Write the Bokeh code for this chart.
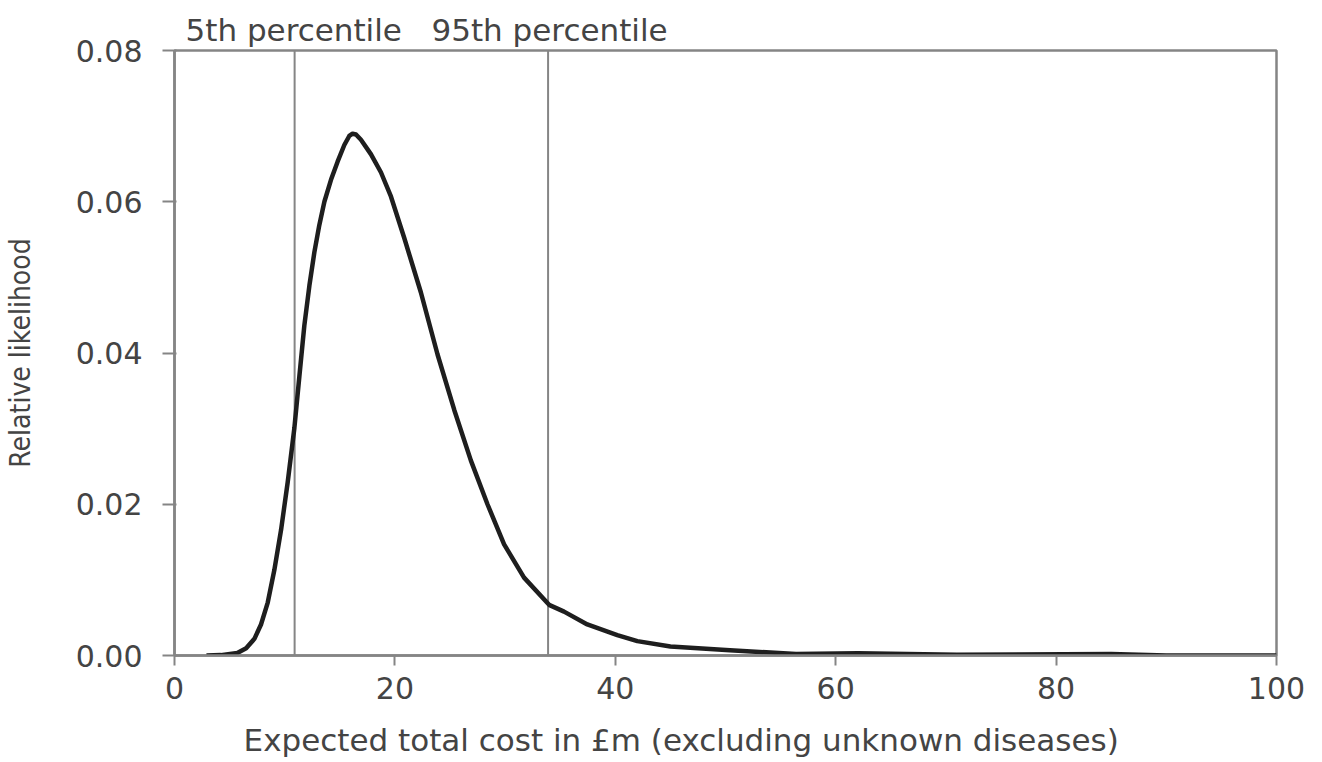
from bokeh.plotting import figure
from bokeh.models import FixedTicker, PrintfTickFormatter, Range1d, Title
from bokeh.embed import file_html
from bokeh.resources import INLINE

# Curve
cost = [2.9, 4.2, 5.7, 6.5, 7.25, 7.85, 8.46, 9.06, 9.67, 10.27, 10.88, 11.33, 11.78,
        12.24, 12.69, 13.14, 13.6, 14.2, 14.8, 15.41, 15.86, 16.16, 16.47, 16.92, 17.82,
        18.73, 19.64, 20.85, 22.36, 23.87, 25.38, 26.89, 28.4, 29.91, 31.72, 33.99,
        35.35, 37.46, 40.18, 42.0, 45.0, 50.4, 56.4, 62.0, 71.0, 85.0, 90.0, 100.0]
likelihood = [0.0, 0.00005, 0.00034, 0.00096, 0.0022, 0.0041, 0.0070, 0.0113, 0.0166,
              0.0229, 0.0301, 0.0369, 0.0436, 0.0489, 0.0533, 0.0569, 0.0600, 0.0629,
              0.0653, 0.0675, 0.0687, 0.0690, 0.0689, 0.0682, 0.0663, 0.0639, 0.0607,
              0.0552, 0.0480, 0.0398, 0.0325, 0.0258, 0.0200, 0.0147, 0.0103, 0.0067,
              0.0058, 0.0041, 0.0027, 0.0019, 0.0012, 0.0007, 0.0002, 0.0003, 0.0001,
              0.0002, 0.0, 0.0]
percentile_x = [10.9, 33.9]
percentile_title = "5th percentile\u00a0\u00a0\u00a095th percentile"
x_ticks = [0, 20, 40, 60, 80, 100]
y_ticks = [0.0, 0.02, 0.04, 0.06, 0.08]

FONT = "DejaVu Sans"
GREY = "#858585"
TEXT = "#444444"

p = figure(width=1320, height=760, output_backend="svg", toolbar_location=None,
           x_range=Range1d(0, 100), y_range=Range1d(0, 0.08),
           min_border_left=174, min_border_right=44, min_border_top=50, min_border_bottom=104)
p.xgrid.visible = False
p.ygrid.visible = False
p.outline_line_color = GREY
p.outline_line_width = 2.5
p.background_fill_color = "white"

for ax in (p.xaxis[0], p.yaxis[0]):
    ax.axis_line_color = GREY
    ax.axis_line_width = 2.5
    ax.major_tick_line_color = GREY
    ax.major_tick_line_width = 2
    ax.minor_tick_line_color = None
    ax.major_label_text_font = FONT
    ax.major_label_text_font_size = "30px"
    ax.major_label_text_color = TEXT
    ax.axis_label_text_font = FONT
    ax.axis_label_text_font_style = "normal"
    ax.axis_label_text_color = TEXT

p.xaxis.ticker = FixedTicker(ticks=x_ticks)
p.yaxis.ticker = FixedTicker(ticks=y_ticks)
p.yaxis.formatter = PrintfTickFormatter(format="%.2f")
p.xaxis.major_tick_out = 10
p.xaxis.major_tick_in = 0
p.yaxis.major_tick_out = 12
p.yaxis.major_tick_in = 2
p.xaxis.major_label_standoff = 11
p.yaxis.major_label_standoff = 20
p.xaxis.axis_label = "Expected total cost in £m (excluding unknown diseases)" + "\u00a0" * 9
p.xaxis.axis_label_text_font_size = "31px"
p.xaxis.axis_label_standoff = 20
p.yaxis.axis_label = "Relative likelihood"
p.yaxis.axis_label_text_font = "DejaVu Sans Condensed"
p.yaxis.axis_label_text_font_size = "28px"
p.yaxis.axis_label_standoff = 36

for xv in percentile_x:
    p.segment(x0=[xv], y0=[0], x1=[xv], y1=[0.08], line_color=GREY, line_width=2)

p.line(cost, likelihood, line_color="#1e1e1e", line_width=4.5, line_join="round")

p.add_layout(Title(text=percentile_title, align="left", offset=11, standoff=5,
                   text_font=FONT, text_font_size="31px", text_font_style="normal",
                   text_color=TEXT), "above")

open("out.html", "w").write(file_html(p, INLINE))
